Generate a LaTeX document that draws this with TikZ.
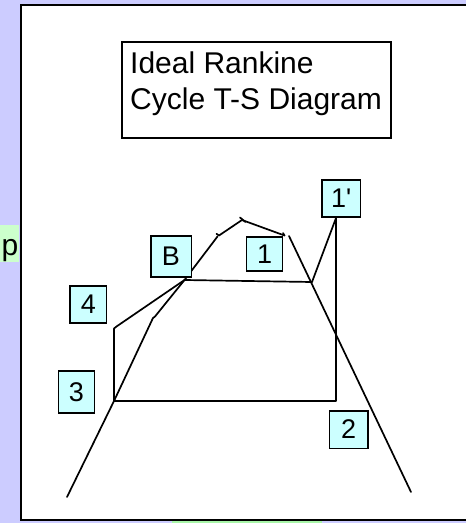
\documentclass[tikz,border=0pt]{standalone}
\usepackage{fontspec}
\setmainfont{Liberation Sans}
\definecolor{bglav}{HTML}{CCCCFF}
\definecolor{lblcyan}{HTML}{CCFFFF}
\definecolor{pgreen}{HTML}{CCFFCC}
\definecolor{bgreen}{HTML}{A8F5A8}
\tikzset{
  curve/.style={line width=1.7pt, line cap=round, line join=round},
  lbl/.style={draw, line width=1.5pt, fill=lblcyan, inner sep=0pt,
    font=\fontsize{27}{32}\selectfont},
  titletext/.style={anchor=base west, inner sep=0pt, font=\fontsize{30}{36}\selectfont}
}
\begin{document}
\begin{tikzpicture}[x=1pt,y=-1pt]
\useasboundingbox (0,0) rectangle (466,523);
\clip (0,0) rectangle (466,523);
\fill[bglav] (0,0) rectangle (466,523);
% bottom green patch
\fill[bgreen] (172,520) rectangle (322,523);
% white panel
\draw[fill=white, line width=2pt] (21,5) rectangle (480,520);
% left green label
\fill[pgreen] (0,225) rectangle (19.3,262);
\node[titletext] (plbl) at (1.5,255) {p};
% title
\draw[line width=1.5pt] (122,42) rectangle (391,138);
\node[titletext] (t1) at (130,73.3) {Ideal Rankine};
\node[titletext] (t2) at (130,109.3) {Cycle T-S Diagram};

% points
\coordinate (bl) at (67,497);
\coordinate (p3) at (114,401);
\coordinate (k1a) at (153,318);
\coordinate (k1b) at (155,316.5);
\coordinate (pB) at (184.5,280);
\coordinate (p4a) at (114,328.5);
\coordinate (p4b) at (116.5,326.5);
\coordinate (t1a) at (217.5,236.5);
\coordinate (t1b) at (219,235.5);
\coordinate (top) at (242,220);
\coordinate (t3) at (284.5,235.5);
\coordinate (rt) at (289,236);
\coordinate (rb) at (411,492);
\coordinate (psat) at (312,282);
\coordinate (p1p) at (336,218);
\coordinate (p2) at (336,401);

% saturation dome (left)
\draw[curve] (bl) -- (p3) -- (k1a) -- (k1b) -- (pB) -- (t1a);
\draw[curve] (t1b) -- (top) -- (t3);
\draw[curve] (216.5,233.8) -- (t1b);
\draw[curve] (240,217.5) -- (245.5,222);
\draw[curve] (283,233) -- (t3);
% right saturation line
\draw[curve] (rt) -- (rb);
% cycle
\draw[curve] (p3) -- (p4a) -- (p4b) -- (pB);
\draw[curve] (pB) -- (psat);
\draw[curve] (psat) -- (p1p) -- (p2) -- (p3);

% labels
\node[lbl, minimum width=40.5pt, minimum height=41pt] (B) at (171,256.5) {B};
\node[lbl, minimum width=36pt, minimum height=34pt] (n1) at (264.7,253.8) {1};
\node[lbl, minimum width=38.5pt, minimum height=37pt] (n1p) at (341.3,198.5) {1\textquotesingle};
\node[lbl, minimum width=36.5pt, minimum height=37pt] (n4) at (88.3,304.7) {4};
\node[lbl, minimum width=36pt, minimum height=42pt] (n3) at (76.5,392) {3};
\node[lbl, minimum width=38.5pt, minimum height=37.5pt] (n2) at (348.7,429.5) {2};
\end{tikzpicture}
\end{document}
